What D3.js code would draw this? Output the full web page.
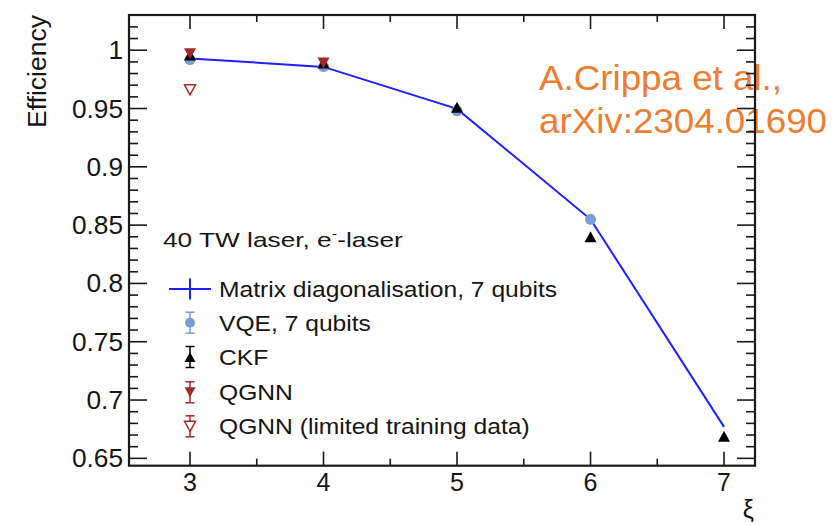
<!DOCTYPE html>
<html>
<head>
<meta charset="utf-8">
<script src="https://cdn.jsdelivr.net/npm/d3@7"></script>
<style>
  body { margin: 0; background: #fff; }
  text { font-family: "Liberation Sans", Arial, sans-serif; fill: #151515; }
</style>
</head>
<body>
<svg id="chart" width="833" height="525"></svg>
<script>
// values
var xiValues = [3, 4, 5, 6, 7];
var matrixEff = [0.993, 0.9857, 0.9497, 0.855, 0.677];
var vqeXi = [3, 4, 5, 6];
var vqeEff = [0.992, 0.986, 0.948, 0.855];
var ckfXi = [3, 4, 5, 6, 7];
var ckfEff = [0.996, 0.989, 0.951, 0.840, 0.669];
var qgnnXi = [3, 4];
var qgnnEff = [0.997, 0.989];
var qgnnLimXi = [3];
var qgnnLimEff = [0.966];

var xTicks = [3, 4, 5, 6, 7];
var yTicks = [0.65, 0.7, 0.75, 0.8, 0.85, 0.9, 0.95, 1];
var legendLabels = ["Matrix diagonalisation, 7 qubits", "VQE, 7 qubits", "CKF", "QGNN", "QGNN (limited training data)"];

var blue = "#1f1fff", vqeCol = "#7b9bd8", red = "#a3292b";

var svg = d3.select("#chart");
var frameL = 129, frameR = 755, frameT = 15, frameB = 465.7;

var x = d3.scaleLinear().domain([2.543, 7.232]).range([frameL, frameR]);
var y = d3.scaleLinear().domain([0.6437, 1.0302]).range([frameB, frameT]);

// stretch text horizontally around its anchor (the picture is a bit wide)
function wide(sel, sx) {
	sel.attr("transform", function() {
		var tx = +this.getAttribute("x"), ty = +this.getAttribute("y");
		return "translate(" + tx + "," + ty + ") scale(" + sx + ",1) translate(" + (-tx) + "," + (-ty) + ")";
	});
}

function tri(w, h, down) {
	var s = down ? -1 : 1;
	return "M0," + (-s * h / 2) + "L" + (w / 2) + "," + (s * h / 2) + "L" + (-w / 2) + "," + (s * h / 2) + "Z";
}

// reference note (sits under the frame)
var note = svg.append("g");
note.append("text").attr("x", 539).attr("y", 90).attr("font-size", 35).style("fill", "#ed7d31").text("A.Crippa et al.,").call(wide, 1.05);
note.append("text").attr("x", 539).attr("y", 133.3).attr("font-size", 35).style("fill", "#ed7d31").text("arXiv:2304.01690").call(wide, 1.05);

// ticks
var g = svg.append("g").attr("stroke", "#1a1a1a").attr("stroke-width", 1.6);
var yMinor = d3.range(65, 103).map(function(d) { return d / 100; });
yMinor.forEach(function(v) {
	var major = Math.abs(v * 20 - Math.round(v * 20)) < 1e-6;
	var len = major ? 18 : 9;
	g.append("line").attr("x1", frameL).attr("x2", frameL + len).attr("y1", y(v)).attr("y2", y(v));
	g.append("line").attr("x1", frameR).attr("x2", frameR - len).attr("y1", y(v)).attr("y2", y(v));
});
var xMinor = d3.range(3, 7.01, 0.5);
xMinor.forEach(function(v) {
	var major = Math.abs(v - Math.round(v)) < 1e-6;
	var len = major ? 14 : 7;
	g.append("line").attr("x1", x(v)).attr("x2", x(v)).attr("y1", frameB).attr("y2", frameB - len);
	g.append("line").attr("x1", x(v)).attr("x2", x(v)).attr("y1", frameT).attr("y2", frameT + len);
});

svg.append("rect").attr("x", frameL).attr("y", frameT).attr("width", frameR - frameL).attr("height", frameB - frameT)
	.attr("fill", "none").attr("stroke", "#1a1a1a").attr("stroke-width", 2.2);

// tick labels
svg.selectAll(".ylab").data(yTicks).enter().append("text")
	.attr("class", "ylab")
	.attr("x", 123).attr("y", function(d) { return y(d) + 9; })
	.attr("text-anchor", "end").attr("font-size", 25)
	.text(function(d) { return d3.format("")(d); })
	.call(wide, 1.05);
svg.selectAll(".xlab").data(xTicks).enter().append("text")
	.attr("class", "xlab")
	.attr("x", function(d) { return x(d); }).attr("y", 490.5)
	.attr("text-anchor", "middle").attr("font-size", 25)
	.text(function(d) { return d; });

svg.append("text").attr("x", 754).attr("y", 518).attr("text-anchor", "end").attr("font-size", 25).text("ξ");
svg.append("text").attr("transform", "translate(46,15) rotate(-90)").attr("text-anchor", "end")
	.attr("font-size", 26.5).text("Efficiency");

// matrix diagonalisation line
var line = d3.line().x(function(d, i) { return x(xiValues[i]); }).y(function(d) { return y(d); });
svg.append("path").datum(matrixEff).attr("d", line).attr("fill", "none").attr("stroke", blue).attr("stroke-width", 2);

// markers
svg.selectAll(".vqe").data(vqeEff).enter().append("circle")
	.attr("cx", function(d, i) { return x(vqeXi[i]); }).attr("cy", function(d) { return y(d); })
	.attr("r", 5.5).attr("fill", vqeCol);
svg.selectAll(".ckf").data(ckfEff).enter().append("path")
	.attr("d", tri(12, 11, false))
	.attr("transform", function(d, i) { return "translate(" + x(ckfXi[i]) + "," + y(d) + ")"; })
	.attr("fill", "#000");
svg.selectAll(".qgnn").data(qgnnEff).enter().append("path")
	.attr("d", tri(12, 11, true))
	.attr("transform", function(d, i) { return "translate(" + x(qgnnXi[i]) + "," + y(d) + ")"; })
	.attr("fill", red);
svg.selectAll(".qgnnlim").data(qgnnLimEff).enter().append("path")
	.attr("d", tri(11, 10, true))
	.attr("transform", function(d, i) { return "translate(" + x(qgnnLimXi[i]) + "," + y(d) + ")"; })
	.attr("fill", "#fff").attr("stroke", red).attr("stroke-width", 1.5);

// legend
var head = svg.append("text").attr("x", 163).attr("y", 247).attr("font-size", 21);
head.append("tspan").text("40 TW laser, e");
head.append("tspan").attr("font-size", 13).attr("dy", -9).text("-");
head.append("tspan").attr("dy", 9).text("-laser");
head.call(wide, 1.25);

var rowY = [289, 322.7, 357, 392.3, 426.3];
var lx = 190;
var lg = svg.append("g");
lg.append("line").attr("x1", 169).attr("x2", 211).attr("y1", rowY[0]).attr("y2", rowY[0]).attr("stroke", blue).attr("stroke-width", 2);
lg.append("line").attr("x1", lx).attr("x2", lx).attr("y1", rowY[0] - 10.5).attr("y2", rowY[0] + 10.5).attr("stroke", blue).attr("stroke-width", 2);

var errCols = [vqeCol, "#000", red, red];
errCols.forEach(function(c, i) {
	var cy = rowY[i + 1];
	lg.append("line").attr("x1", lx).attr("x2", lx).attr("y1", cy - 10.5).attr("y2", cy + 10.5).attr("stroke", c).attr("stroke-width", 1.5);
	lg.append("line").attr("x1", lx - 4.5).attr("x2", lx + 4.5).attr("y1", cy - 10.5).attr("y2", cy - 10.5).attr("stroke", c).attr("stroke-width", 1.5);
	lg.append("line").attr("x1", lx - 4.5).attr("x2", lx + 4.5).attr("y1", cy + 10.5).attr("y2", cy + 10.5).attr("stroke", c).attr("stroke-width", 1.5);
});
lg.append("circle").attr("cx", lx).attr("cy", rowY[1]).attr("r", 5).attr("fill", vqeCol);
lg.append("path").attr("d", tri(11, 10, false)).attr("transform", "translate(" + lx + "," + rowY[2] + ")").attr("fill", "#000");
lg.append("path").attr("d", tri(11, 10, true)).attr("transform", "translate(" + lx + "," + rowY[3] + ")").attr("fill", red);
lg.append("path").attr("d", tri(11, 10, true)).attr("transform", "translate(" + lx + "," + rowY[4] + ")")
	.attr("fill", "#fff").attr("stroke", red).attr("stroke-width", 1.5);

lg.selectAll(".ltxt").data(legendLabels).enter().append("text")
	.attr("class", "ltxt")
	.attr("x", 219).attr("y", function(d, i) { return rowY[i] + 8; })
	.attr("font-size", 22)
	.text(function(d) { return d; })
	.call(wide, 1.12);
</script>
</body>
</html>
